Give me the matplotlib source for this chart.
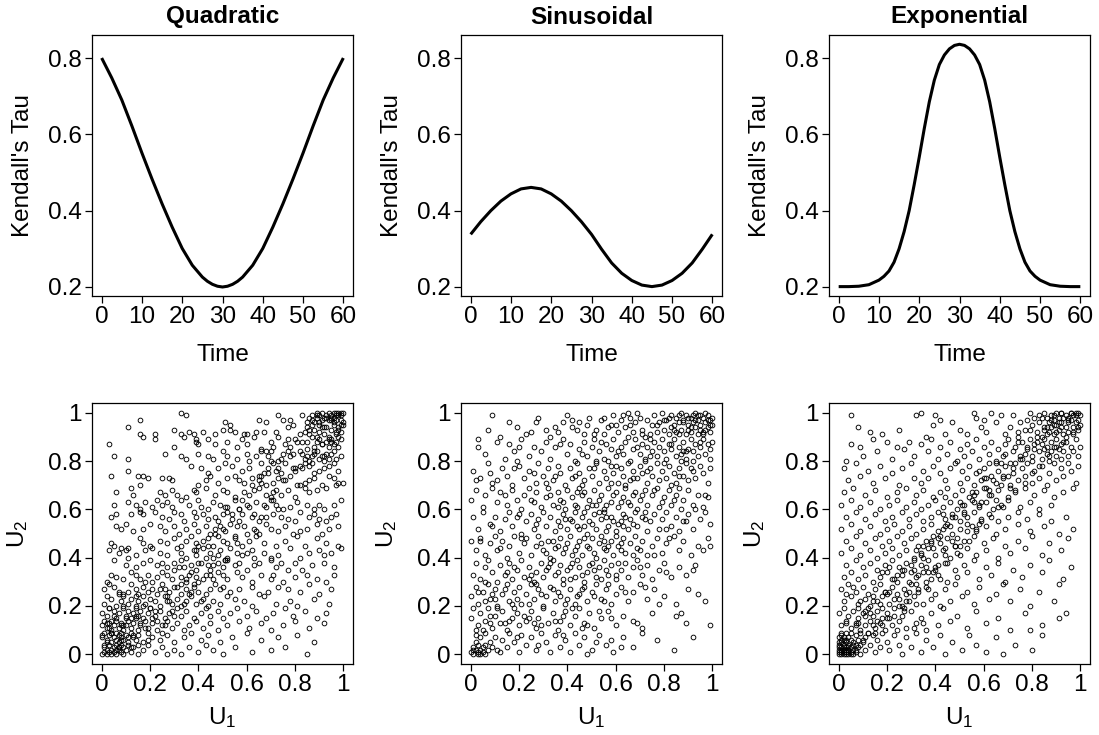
import matplotlib
matplotlib.use("Agg")
import matplotlib.pyplot as plt

plt.rcParams['font.family'] = ['Liberation Sans', 'DejaVu Sans']
plt.rcParams['mathtext.default'] = 'regular'

# ---------------- data: Kendall's tau curves ----------------
t_quad = [0, 2.5, 5, 7.5, 10, 12.5, 15, 17.5, 20, 22.5, 25, 26.25, 27.5, 28.75, 30,
          31.25, 32.5, 33.75, 35, 37.5, 40, 42.5, 45, 47.5, 50, 52.5, 55, 57.5, 60]
tau_quad = [0.800, 0.748, 0.690, 0.622, 0.551, 0.483, 0.418, 0.357, 0.301, 0.257, 0.226, 0.215, 0.207, 0.202, 0.200,
            0.202, 0.207, 0.215, 0.226, 0.257, 0.301, 0.357, 0.418, 0.483, 0.551, 0.622, 0.690, 0.748, 0.800]

t_sin = [0, 2.5, 5, 7.5, 10, 12.5, 15, 17.5, 20, 22.5, 25, 27.5, 30,
         32.5, 35, 37.5, 40, 42.5, 45, 47.5, 50, 52.5, 55, 57.5, 60]
tau_sin = [0.338, 0.371, 0.400, 0.425, 0.444, 0.457, 0.461, 0.457, 0.444, 0.425, 0.400, 0.371, 0.338,
           0.299, 0.263, 0.236, 0.217, 0.205, 0.201, 0.205, 0.217, 0.236, 0.263, 0.299, 0.338]

t_exp = [0, 2.5, 5, 7.5, 10, 11.25, 12.5, 13.75, 15, 16.25, 17.5, 18.75, 20, 21.25, 22.5, 23.75, 25, 26.25, 27.5,
         28.75, 30, 31.25, 32.5, 33.75, 35, 36.25, 37.5, 38.75, 40, 41.25, 42.5, 43.75, 45, 46.25, 47.5, 48.75,
         50, 52.5, 55, 57.5, 60]
tau_exp = [0.201, 0.201, 0.202, 0.206, 0.218, 0.228, 0.242, 0.265, 0.300, 0.345, 0.400, 0.468, 0.540, 0.615, 0.685,
           0.742, 0.783, 0.808, 0.824, 0.833, 0.836, 0.833, 0.824, 0.808, 0.783, 0.742, 0.685, 0.615, 0.540, 0.468,
           0.400, 0.345, 0.300, 0.265, 0.242, 0.228, 0.218, 0.206, 0.202, 0.201, 0.201]

titles = ["Quadratic", "Sinusoidal", "Exponential"]
time_ticks = [0, 10, 20, 30, 40, 50, 60]
tau_ticks = [0.2, 0.4, 0.6, 0.8]
tau_ticklabels = ["0.2", "0.4", "0.6", "0.8"]
u_ticks = [0, 0.2, 0.4, 0.6, 0.8, 1]
u_ticklabels = ["0", "0.2", "0.4", "0.6", "0.8", "1"]

# ---------------- data: simulated copula points (percent units) ----------------
quad_pts = [
 (33,100),(35,99),(16,97),(65,97),(68,96),(51,96),(53,95),(73,99),(75,97),(78,97),(83,99),(87,99),(89,100),(90,99),
 (91,100),(93,99),(94,100),(96,100),(97,100),(98,100),(99,99),(98,99),(96,98),(95,98),(94,97),(91,97),(89,98),(87,97),
 (99,97),(97,97),(100,96),(92,98),(95,99),(97,99),(99,100),(90,96),(86,98),(88,96),
 (11,94),(16,91),(17,90),(22,91),(30,93),(33,91),(34,90),(36,92),(38,91),(39,89),(42,92),(47,91),(50,93),(53,93),
 (55,92),(59,91),(60,91),(64,92),(67,92),(72,92),(73,90),(77,94),(79,95),(84,92),(86,91),(88,93),(90,92),(91,94),
 (93,94),(95,93),(96,95),(98,94),(99,92),(97,91),(94,90),(92,91),(89,90),(100,95),(87,95),(85,94),
 (3,87),(22,89),(39,88),(40,87),(44,89),(47,87),(52,88),(56,86),(58,89),(60,87),(63,90),(66,85),(70,88),(71,86),
 (76,87),(80,89),(81,88),(85,85),(88,86),(89,88),(90,89),(91,87),(93,88),(94,86),(95,89),(96,87),(97,88),(98,86),
 (99,89),(85,88),(26,83),(30,86),
 (5,82),(11,81),(35,81),(33,82),(40,83),(44,82),(46,81),(50,84),(52,82),(56,81),(60,83),(61,80),(64,82),(66,84),
 (68,84),(69,82),(70,80),(73,80),(75,83),(77,84),(78,82),(82,84),(83,83),(84,81),(86,80),(87,82),(88,83),(89,84),
 (90,81),(91,82),(92,80),(93,83),(94,81),(96,84),(97,81),(99,82),(95,83),(85,82),
 (11,76),(37,78),(41,77),(44,75),(48,77),(51,79),(54,78),(58,76),(61,77),(66,79),(67,75),(69,77),(71,79),(72,76),
 (74,75),(76,79),(79,77),(80,76),(82,78),(83,77),(86,78),(87,79),(88,75),(90,76),(92,77),(94,78),(96,79),(98,76),
 (4,74),(15,74),(17,74),(19,73),(25,73),(28,73),(29,72),(40,70),(43,72),(45,74),(48,71),(52,73),(55,74),(57,72),
 (59,71),(62,73),(65,72),(66,74),(68,70),(71,71),(73,73),(75,72),(78,74),(82,70),(84,71),(86,72),(88,73),(91,70),
 (94,74),(96,73),(98,71),(100,71),
 (6,67),(12,69),(13,66),(16,70),(24,67),(26,66),(29,68),(31,66),(35,65),(38,68),(39,67),(43,69),(47,66),(50,68),
 (52,67),(55,65),(59,67),(63,68),(65,69),(68,66),(70,65),(71,67),(74,66),(77,68),(80,65),(84,69),(86,67),(89,68),
 (93,69),(97,70),
 (5,62),(11,63),(14,62),(16,60),(18,63),(21,61),(23,64),(25,62),(27,63),(29,61),(33,64),(36,62),(40,64),(41,61),
 (44,60),(46,63),(49,62),(52,61),(55,64),(57,60),(60,62),(61,61),(64,63),(68,61),(70,64),(72,62),(73,60),(78,61),
 (81,63),(85,62),(88,60),(90,62),(92,60),(96,62),(99,64),
 (4,57),(6,58),(12,58),(16,59),(17,58),(22,59),(25,57),(28,56),(30,59),(33,58),(34,55),(38,59),(39,57),(42,58),
 (44,56),(47,57),(48,55),(50,58),(52,59),(54,56),(57,55),(58,58),(62,57),(65,55),(66,57),(71,58),(74,57),(77,56),
 (80,55),(82,59),(86,57),(88,58),(90,56),(93,55),(95,57),(97,58),
 (6,53),(8,52),(10,54),(13,51),(17,52),(20,54),(24,53),(26,51),(30,53),(32,50),(35,52),(38,54),(40,51),(43,53),
 (45,50),(47,52),(49,53),(51,51),(53,54),(56,53),(60,50),(63,52),(65,50),(68,54),(70,52),(73,51),(76,53),(79,50),
 (82,51),(85,52),(89,54),(91,50),(94,52),(98,53),
 (4,46),(5,45),(8,44),(10,43),(11,44),(16,48),(17,46),(20,45),(24,47),(27,46),(30,48),(33,45),(35,47),(37,49),
 (39,46),(40,45),(42,47),(44,48),(46,45),(48,49),(50,47),(52,46),(55,48),(58,45),(61,47),(64,49),(67,46),(72,45),
 (76,47),(81,49),(84,45),(89,48),(93,46),(98,45),
 (3,43),(7,42),(11,40),(14,41),(18,43),(21,44),(24,42),(27,41),(31,44),(33,42),(35,40),(38,43),(39,41),(42,44),
 (45,42),(46,40),(49,43),(51,39),(52,40),(56,42),(58,41),(62,43),(63,40),(67,42),(70,40),(73,41),(78,44),(82,40),
 (86,42),(90,43),(92,41),(95,42),(99,44),
 (5,39),(10,37),(14,36),(17,38),(20,39),(23,37),(25,38),(27,36),(30,38),(33,39),(34,36),(37,37),(39,35),(41,38),
 (44,37),(45,35),(48,38),(50,36),(51,39),(55,37),(57,38),(60,35),(63,37),(65,38),(70,39),(72,36),(74,38),(77,35),
 (80,38),(83,35),(87,37),(92,38),(96,36),
 (2,30),(4,33),(6,32),(9,31),(12,34),(14,33),(16,31),(19,33),(21,30),(23,32),(25,34),(27,33),(29,31),(30,35),
 (33,32),(35,30),(37,34),(39,32),(40,30),(43,33),(46,31),(48,34),(50,33),(52,31),(56,34),(58,32),(62,30),(66,33),
 (70,31),(71,33),(75,30),(80,32),(85,33),(89,31),(93,30),(96,33),
 (1,27),(3,29),(5,28),(7,26),(9,25),(11,26),(12,29),(14,27),(15,25),(17,28),(18,30),(19,26),(21,27),(23,25),
 (25,29),(26,27),(28,26),(30,28),(33,29),(35,27),(36,25),(38,28),(40,26),(43,25),(45,27),(47,29),(50,28),(53,26),
 (57,27),(62,28),(65,25),(69,26),(73,28),(77,27),(82,26),(86,29),(90,25),(95,27),
 (1,21),(2,24),(4,23),(6,20),(8,22),(9,24),(11,21),(12,23),(14,20),(15,22),(17,24),(18,21),(20,23),(22,22),
 (24,20),(26,24),(27,22),(29,21),(31,23),(33,20),(35,22),(37,24),(39,21),(42,23),(44,20),(46,22),(49,21),(52,24),
 (55,23),(59,22),(62,20),(67,24),(72,21),(78,22),(81,20),(88,23),(94,21),
 (0,17),(2,16),(3,19),(5,18),(6,15),(7,17),(9,19),(10,16),(11,18),(12,15),(13,17),(14,19),(15,16),(16,18),
 (17,15),(19,17),(20,19),(22,16),(24,18),(26,15),(28,17),(31,19),(33,16),(35,18),(38,15),(41,17),(43,19),(45,16),
 (48,18),(50,15),(53,17),(56,19),(60,16),(64,18),(68,15),(71,17),(76,19),(79,16),(84,18),(89,15),(93,17),
 (0,12),(1,14),(2,11),(3,13),(4,10),(5,12),(6,14),(7,11),(8,13),(9,10),(10,12),(11,14),(12,11),(13,13),(14,15),
 (15,10),(16,12),(18,14),(19,11),(21,13),(23,10),(25,12),(27,14),(29,11),(31,13),(34,10),(36,12),(39,14),(42,11),
 (45,13),(48,10),(52,12),(57,14),(61,11),(66,13),(70,10),(75,12),(80,14),(86,11),(92,13),(2,13),(4,14),(8,12),
 (0,7),(1,9),(2,6),(3,8),(4,5),(4,9),(5,7),(6,6),(6,9),(7,8),(7,5),(8,7),(8,9),(9,6),(10,8),(11,5),(12,9),(13,7),
 (14,6),(15,8),(17,5),(19,9),(21,7),(24,6),(27,8),(30,5),(34,7),(37,9),(41,6),(44,8),(49,5),(54,7),(60,9),(66,6),
 (73,7),(81,8),(88,5),
 (0,0),(1,1),(1,3),(2,0),(2,2),(3,4),(3,1),(4,2),(4,0),(5,3),(5,1),(6,4),(6,0),(7,2),(7,3),(8,1),(8,4),(9,0),(9,3),
 (10,2),(11,4),(12,1),(13,3),(15,0),(17,2),(19,4),(22,1),(25,3),(27,0),(30,2),(33,0),(36,3),(40,1),(43,4),(46,2),
 (50,0),(55,3),(62,1),(70,2),(76,3),(85,0),
]
quad_pts_b = [
 (2,5),(4,9),(7,3),(9,12),(11,7),(14,16),(15,4),(18,11),(20,19),(23,14),(25,9),(27,24),(29,18),(31,28),(34,21),
 (36,33),(37,26),(40,38),(42,31),(44,45),(46,37),(48,41),(50,52),(53,44),(55,49),(57,60),(59,53),(61,66),(63,58),
 (66,71),(67,62),(69,75),(72,68),(74,81),(76,72),(78,86),(80,77),(83,88),(84,79),(86,93),(88,84),(90,95),(91,87),
 (93,98),(94,89),(96,96),(97,92),(99,95),(100,100),(98,93),(95,97),(92,94),(89,99),(87,90),(85,96),(82,91),(79,83),
 (77,89),(73,77),(70,84),(65,74),(62,70),(58,64),(54,58),(51,61),(47,50),(43,40),(39,43),(35,31),(32,36),(28,22),
 (24,27),(21,15),(17,20),(13,8),(10,15),(6,2),(3,11),(1,4),(0,8),(8,6),(12,3),(16,13),(19,6),(22,18),(26,12),
 (30,16),(33,25),(38,29),(41,22),(45,33),(49,27),(52,39),(56,46),(60,42),(64,51),(68,57),(71,64),(75,60),(81,70),
 (92,82),(95,88),(98,90),(5,16),(9,20),(14,24),(3,19),(7,25),
]

sin_pts = [
 (9,99),(19,94),(23,91),(27,96),(31,93),(36,92),(40,99),(42,94),(45,96),(47,91),(49,98),(52,93),(54,97),(55,91),
 (58,95),(59,99),(61,92),(62,97),(64,94),(65,100),(67,92),(68,96),(70,98),(71,93),(72,90),(73,97),(75,95),(76,99),
 (77,92),(78,96),(79,100),(80,93),(81,97),(82,91),(83,99),(84,95),(85,92),(85,98),(86,96),(87,100),(87,93),(88,97),
 (89,91),(89,99),(90,95),(91,98),(91,92),(92,96),(93,100),(93,94),(94,97),(94,91),(95,99),(95,95),(96,98),(96,92),
 (97,100),(97,96),(98,94),(98,99),(99,97),(99,92),(100,98),(100,95),(92,99),(90,93),(86,91),(83,94),(74,91),
 (69,100),(63,99),(57,94),(51,91),(44,93),(38,96),(33,90),(25,92),(66,95),(82,98),(95,93),
 (3,86),(6,83),(11,88),(14,81),(16,87),(18,84),(21,89),(24,82),(26,86),(29,84),(31,88),(33,81),(35,86),(38,89),
 (40,83),(41,87),(43,80),(45,85),(47,88),(48,82),(50,86),(51,89),(53,84),(55,81),(56,87),(58,85),(59,89),(60,82),
 (62,86),(63,83),(64,88),(66,80),(67,85),(68,89),(70,83),(71,87),(72,81),(73,86),(75,84),(76,88),(77,82),(78,86),
 (79,89),(80,84),(81,81),(82,87),(83,85),(84,89),(85,82),(86,86),(87,83),(88,88),(89,81),(90,85),(91,89),(92,84),
 (93,87),(94,82),(95,86),(96,89),(97,83),(98,87),(99,85),(100,88),(52,80),(65,90),(74,89),(88,84),(92,80),(19,80),
 (1,76),(4,73),(7,79),(9,71),(13,77),(15,74),(17,70),(20,78),(22,73),(24,76),(27,71),(28,79),(30,74),(32,77),
 (34,72),(36,78),(37,75),(39,70),(41,77),(42,73),(44,79),(45,75),(47,72),(49,77),(50,74),(52,79),(53,71),(55,76),
 (56,73),(58,78),(59,75),(61,71),(62,77),(63,74),(65,79),(66,72),(67,76),(69,73),(70,78),(71,75),(73,71),(74,77),
 (75,74),(77,79),(78,72),(79,76),(81,73),(82,78),(84,75),(85,71),(86,77),(88,74),(89,79),(90,72),(92,76),(93,73),
 (95,78),(96,75),(98,71),(99,77),(46,70),(57,80),(64,70),(72,80),(83,70),(11,72),(26,75),(87,80),(60,78),(35,74),
 (0,64),(2,68),(5,61),(6,66),(9,69),(11,63),(12,67),(15,62),(17,68),(19,64),(21,60),(22,66),(24,69),(26,63),
 (27,67),(29,61),(31,65),(32,69),(34,62),(36,67),(37,64),(39,60),(40,68),(42,65),(43,62),(45,69),(46,66),(48,61),
 (49,64),(51,68),(52,62),(54,66),(55,60),(57,69),(58,63),(60,67),(61,61),(63,65),(64,69),(66,62),(67,66),(69,60),
 (70,64),(72,68),(73,62),(75,66),(77,69),(78,61),(80,65),(82,68),(83,62),(85,66),(87,60),(88,64),(90,68),(92,62),
 (94,66),(96,61),(98,65),(53,64),(47,67),(38,63),(62,63),(71,66),(56,62),(44,61),(33,66),(68,67),(79,63),(86,69),
 (1,57),(3,52),(5,59),(8,54),(10,57),(12,51),(14,56),(16,59),(17,53),(19,57),(21,50),(23,55),(25,58),(26,52),
 (28,56),(30,59),(31,53),(33,57),(35,51),(36,55),(38,58),(40,52),(41,56),(43,59),(44,53),(46,57),(48,50),(49,55),
 (51,58),(52,52),(54,56),(55,59),(57,53),(58,57),(60,51),(62,55),(63,58),(65,52),(66,56),(68,59),(69,53),(71,57),
 (73,51),(74,55),(76,58),(78,52),(79,56),(81,59),(83,53),(85,57),(86,51),(88,55),(90,58),(92,52),(95,56),(97,59),
 (99,54),(45,52),(50,54),(56,51),(61,54),(64,57),(37,53),(42,55),(53,59),(59,55),(67,54),(72,59),(47,59),
 (0,47),(2,43),(4,48),(6,41),(8,46),(10,49),(11,43),(13,47),(15,40),(16,45),(18,49),(20,42),(22,46),(23,48),
 (25,41),(27,45),(28,49),(30,43),(32,47),(33,40),(35,44),(37,48),(38,42),(40,46),(41,49),(43,43),(45,47),(46,41),
 (48,45),(50,48),(51,42),(53,46),(54,49),(56,43),(58,47),(59,41),(61,45),(63,48),(64,42),(66,46),(68,49),(70,43),
 (71,47),(73,41),(75,45),(77,48),(79,42),(81,46),(84,49),(86,43),(88,47),(91,41),(94,45),(98,48),(99,45),(39,44),
 (44,45),(49,44),(52,40),(57,45),(60,49),(34,47),(29,46),(47,48),(55,44),(62,43),(67,41),
 (1,33),(2,38),(4,31),(6,36),(7,39),(9,34),(11,30),(12,37),(14,33),(16,38),(17,31),(19,35),(21,39),(22,32),
 (24,36),(26,30),(27,34),(29,38),(30,32),(32,36),(34,39),(35,33),(37,37),(38,31),(40,35),(42,38),(43,32),(45,36),
 (47,30),(48,34),(50,38),(52,32),(53,36),(55,39),(57,33),(58,37),(60,31),(62,35),(64,38),(65,32),(67,36),(69,39),
 (71,33),(73,37),(75,31),(78,35),(80,38),(83,32),(86,36),(89,33),(93,37),(36,34),(41,31),(44,39),(49,37),(54,31),
 (31,35),(25,33),(18,36),(61,38),(46,33),(56,35),
 (0,24),(2,28),(3,21),(5,26),(7,29),(8,23),(10,27),(11,20),(13,25),(15,29),(16,22),(18,26),(20,28),(21,21),
 (23,25),(25,29),(26,23),(28,27),(30,20),(31,24),(33,28),(35,22),(36,26),(38,29),(40,23),(41,27),(43,21),(45,25),
 (47,28),(48,22),(50,26),(52,29),(54,23),(56,27),(58,21),(60,25),(62,28),(65,22),(67,26),(70,29),(73,23),(76,27),
 (80,24),(85,21),(90,27),(97,22),(14,27),(19,23),(24,21),(29,25),(34,27),(39,21),(44,24),(6,22),(9,25),(51,24),
 (57,29),
 (0,15),(1,19),(3,12),(4,17),(6,14),(7,19),(9,11),(10,16),(12,13),(13,18),(15,10),(17,15),(18,19),(20,12),
 (22,16),(23,14),(25,18),(27,11),(28,15),(30,19),(32,13),(34,17),(36,10),(37,14),(39,18),(41,12),(43,16),(45,19),
 (47,13),(49,17),(51,11),(54,15),(57,18),(60,12),(63,16),(67,14),(71,11),(75,17),(85,16),(89,13),(99,12),(5,10),
 (8,16),(11,19),(14,13),(19,17),(24,15),(29,12),(35,14),(42,19),(46,11),(53,18),
 (0,1),(1,3),(1,0),(2,2),(2,5),(3,1),(3,4),(4,0),(4,2),(5,3),(5,1),(6,0),(7,2),(8,5),(2,8),(4,7),(6,9),(9,3),
 (10,7),(12,1),(13,6),(15,3),(16,9),(18,5),(20,1),(21,8),(23,4),(25,7),(27,2),(29,9),(31,5),(33,1),(35,8),(37,3),
 (39,6),(41,1),(43,9),(45,4),(47,7),(50,2),(53,8),(56,4),(59,1),(63,7),(67,3),(71,9),(84,2),(92,7),(48,0),(58,6),
]
sin_pts_b = [
 (88,96),(91,94),(94,99),(97,93),(99,95),(86,99),(93,97),(96,91),(90,98),(98,97),(84,93),(80,97),(77,95),(71,91),
 (66,98),(60,95),(55,98),(48,95),(42,97),(35,94),(28,98),(16,96),(12,90),(7,93),(3,89),(20,86),(37,87),(46,83),
 (54,88),(61,84),(69,86),(74,82),(83,87),(89,84),(95,88),(99,81),(91,77),(86,74),(80,79),(73,76),(67,73),(58,71),
 (51,77),(43,74),(31,71),(18,77),(8,75),(2,72),(14,66),(25,64),(36,61),(44,67),(50,62),(59,66),(65,63),(76,68),
 (84,64),(93,60),(97,66),(89,55),(81,52),(72,56),(63,53),(56,57),(47,53),(39,56),(27,54),(20,58),(9,53),(4,47),
 (12,44),(21,48),(31,42),(36,45),(42,41),(55,47),(62,46),(69,44),(76,41),(82,48),(96,43),(92,35),(81,34),(70,36),
 (60,33),(51,35),(41,36),(33,38),(24,31),(15,34),(6,30),(3,26),(10,23),(17,21),(27,29),(37,24),(46,27),(55,22),
 (64,26),(72,28),(78,21),(94,25),(87,17),(69,13),(58,15),(48,12),(38,16),(26,13),(16,14),(8,13),(2,10),(6,4),
 (11,2),(19,7),(28,4),(38,8),(52,5),(62,3),(77,6),(3,0),(1,2),
]

exp_pts = [
 (5,99),(8,94),(13,92),(18,91),(25,93),(32,99),(34,100),(36,90),(39,95),(40,99),(42,97),(44,91),(47,96),(50,93),
 (53,91),(56,100),(57,98),(59,94),(61,92),(63,100),(65,96),(67,99),(69,91),(71,94),(72,99),(74,92),(75,96),(77,93),
 (79,100),(80,95),(81,98),(82,92),(83,96),(84,90),(85,100),(85,94),(86,98),(87,92),(87,96),(88,99),(88,94),(89,97),
 (89,91),(90,100),(90,95),(91,98),(91,93),(92,96),(92,100),(93,91),(93,98),(94,94),(94,99),(95,96),(95,92),(96,100),
 (96,97),(97,94),(97,99),(98,96),(98,100),(99,97),(99,93),(100,99),(100,95),(86,91),(90,92),(94,90),(97,91),
 (99,100),(95,98),(92,94),(89,95),(83,99),(78,97),(60,97),
 (3,80),(5,87),(9,86),(10,82),(14,89),(16,84),(20,88),(22,81),(24,86),(27,85),(29,88),(31,82),(34,87),(37,84),
 (38,89),(41,81),(42,86),(45,83),(46,88),(49,80),(50,85),(52,82),(53,87),(55,84),(57,89),(58,81),(60,86),(62,83),
 (63,88),(65,80),(66,85),(68,82),(69,87),(70,89),(72,84),(73,86),(75,81),(76,88),(77,83),(78,86),(79,89),(80,82),
 (81,85),(82,88),(83,84),(84,81),(84,87),(85,89),(86,83),(86,86),(87,80),(88,88),(88,84),(89,86),(90,82),(90,89),
 (91,85),(92,87),(92,81),(93,84),(94,88),(95,82),(96,86),(97,84),(98,89),(99,82),(100,86),(74,90),(85,85),(80,80),
 (2,77),(4,72),(7,79),(9,74),(12,76),(14,71),(17,78),(19,73),(22,75),(25,70),(26,77),(30,79),(31,73),(34,71),
 (35,76),(37,73),(39,78),(42,75),(44,72),(46,77),(48,79),(50,71),(51,76),(53,73),(54,78),(56,70),(57,75),(59,72),
 (60,77),(62,79),(63,74),(65,71),(66,76),(68,73),(69,78),(71,70),(72,75),(73,79),(74,72),(76,77),(77,74),(78,79),
 (80,71),(81,76),(83,73),(84,78),(86,70),(87,75),(89,79),(90,72),(92,77),(93,74),(95,79),(96,76),(98,71),(99,78),
 (61,73),(67,79),(58,76),(70,74),
 (1,62),(2,67),(5,64),(6,69),(9,61),(11,66),(13,63),(15,68),(17,60),(20,65),(21,62),(24,67),(24,64),(28,69),
 (28,61),(31,63),(32,66),(34,60),(35,68),(37,62),(39,65),(40,64),(42,67),(43,61),(45,69),(46,63),(48,66),(49,60),
 (51,68),(52,62),(54,65),(55,64),(57,67),(58,61),(60,69),(61,63),(63,66),(64,60),(66,68),(67,62),(70,65),(71,69),
 (73,67),(75,61),(77,69),(79,63),(81,66),(83,60),(85,68),(88,62),(89,65),(93,67),(97,69),(56,66),(59,63),(62,68),
 (65,64),(68,61),(44,65),(50,63),
 (1,52),(3,57),(5,54),(7,59),(9,51),(11,56),(13,53),(15,58),(17,50),(19,55),(20,52),(22,57),(23,54),(26,59),
 (26,51),(29,53),(29,56),(32,58),(32,50),(35,55),(35,52),(38,57),(38,54),(41,59),(41,51),(44,56),(44,53),(47,58),
 (47,50),(50,55),(50,52),(53,57),(53,54),(56,59),(57,51),(59,56),(61,53),(62,58),(65,50),(66,55),(69,52),(70,57),
 (74,59),(74,54),(78,56),(79,51),(83,58),(85,53),(88,55),(91,50),(94,57),(97,52),(45,54),(48,57),(52,59),(55,53),
 (58,54),(43,58),
 (1,42),(3,47),(5,44),(7,49),(9,41),(11,46),(13,43),(15,48),(16,40),(18,45),(19,42),(21,47),(22,44),(24,49),
 (25,41),(27,46),(28,43),(30,48),(31,40),(33,45),(34,42),(36,47),(37,44),(39,49),(40,41),(42,46),(43,43),(45,48),
 (46,40),(48,45),(49,42),(52,47),(53,44),(56,49),(57,41),(60,46),(61,43),(64,48),(66,40),(69,45),(71,42),(74,47),
 (77,44),(80,49),(84,41),(87,46),(92,43),(95,48),(38,46),(41,48),(44,44),(47,47),(35,40),(50,45),(32,43),
 (2,32),(3,37),(5,34),(7,39),(8,31),(10,36),(11,33),(13,38),(14,30),(16,35),(17,32),(19,37),(20,34),(22,39),
 (23,31),(25,36),(26,33),(28,38),(29,30),(31,35),(32,32),(34,37),(35,34),(37,39),(38,31),(40,36),(41,33),(44,38),
 (45,30),(48,35),(49,32),(52,37),(53,34),(56,39),(58,31),(61,36),(63,33),(66,38),(69,30),(72,35),(76,32),(79,37),
 (84,34),(87,39),(93,31),(96,36),(27,35),(30,37),(33,33),(36,36),(39,34),(42,31),(24,33),(21,36),(18,34),
 (1,27),(2,22),(4,29),(5,24),(7,26),(8,21),(10,28),(11,23),(12,25),(13,20),(15,27),(16,22),(17,29),(18,24),
 (19,26),(21,21),(22,28),(23,23),(24,25),(26,20),(27,27),(28,22),(30,29),(31,24),(33,26),(35,21),(36,28),(38,23),
 (40,25),(42,20),(44,27),(46,22),(48,29),(51,24),(53,26),(56,21),(58,28),(62,23),(65,25),(68,29),(71,22),(75,27),
 (79,20),(83,26),(89,22),(91,29),(14,24),(20,25),(25,23),(29,26),(9,22),(6,28),(32,21),(37,27),(3,25),
 (0,17),(1,12),(2,19),(3,14),(4,16),(5,11),(6,18),(7,13),(8,15),(9,10),(10,17),(11,12),(12,19),(13,14),(14,16),
 (15,11),(16,18),(17,13),(18,15),(19,10),(20,17),(22,12),(23,19),(25,14),(26,16),(28,11),(30,18),(32,13),(34,15),
 (36,10),(38,17),(41,12),(43,19),(46,14),(49,16),(53,11),(57,18),(61,13),(66,15),(71,10),(77,17),(84,12),(91,15),
 (94,17),(79,10),(8,19),(14,12),(21,15),(27,18),(31,11),(18,19),(11,16),(24,10),(35,13),
 (0,0),(0,2),(0,4),(1,1),(1,3),(1,0),(1,5),(2,2),(2,4),(2,1),(2,6),(3,0),(3,3),(3,1),(3,5),(4,2),(4,4),(4,0),
 (4,7),(5,1),(5,3),(5,6),(6,2),(6,0),(6,4),(7,4),(7,1),(7,8),(8,3),(8,6),(9,0),(9,9),(10,5),(11,2),(11,7),(12,9),
 (13,4),(14,8),(15,1),(16,6),(17,3),(18,9),(20,5),(21,2),(23,8),(25,4),(26,0),(28,7),(30,3),(32,9),(34,1),(36,6),
 (39,3),(42,8),(44,0),(47,5),(51,2),(54,8),(57,4),(61,1),(65,7),(68,0),(73,4),(80,2),(84,8),(0,7),(1,8),(3,9),
 (2,0),(0,1),(1,2),(3,2),(4,1),
]
exp_pts_b = [
 (0,3),(1,6),(2,3),(3,6),(4,3),(5,0),(6,5),(7,2),(2,7),(0,5),
 (8,13),(10,6),(13,17),(15,9),(17,21),(18,12),(21,26),(23,16),(24,30),(27,19),(29,22),(30,34),(33,27),(34,41),
 (36,30),(39,44),(40,35),(42,49),(45,38),(46,53),(48,45),(50,41),(52,58),(54,47),(56,63),(57,52),(59,55),(61,69),
 (63,57),(64,72),(66,61),(68,74),(70,64),(71,79),(73,68),(75,82),(77,71),(78,85),(80,75),(82,90),(83,78),(85,93),
 (87,82),(88,97),(90,86),(92,100),(93,88),(95,97),(97,92),(98,99),(99,94),(96,100),(91,96),(89,99),(86,94),(84,98),
 (81,87),(79,93),(76,81),(74,88),(72,77),(69,83),(67,70),(65,79),(62,66),(60,73),(58,62),(55,67),(53,51),(51,62),
 (49,48),(47,57),(44,41),(43,52),(41,37),(38,47),(37,34),(35,45),(32,29),(31,39),(28,25),(26,35),(25,20),(22,31),
 (20,15),(19,26),(16,14),(14,22),(12,9),(11,18),(9,4),(7,12),(5,9),(3,13),(1,9),
]

curves = [(t_quad, tau_quad), (t_sin, tau_sin), (t_exp, tau_exp)]
scatters = [quad_pts + quad_pts_b, sin_pts + sin_pts_b, exp_pts + exp_pts_b]

# ---------------- figure ----------------
W, H = 1099, 735
fig = plt.figure(figsize=(W / 100, H / 100), dpi=100)

col_left = [92, 461, 829]
box_w = 261
row_top = [35, 403]
box_h = 261
FS = 17.5


def add_axes(left_px, top_px):
    return fig.add_axes([left_px / W, 1 - (top_px + box_h) / H, box_w / W, box_h / H])


def style(ax):
    for s in ax.spines.values():
        s.set_linewidth(0.9)
    ax.tick_params(direction='out', length=5, width=0.9, labelsize=FS, pad=2.5)


for i in range(3):
    cx = col_left[i] + box_w / 2
    # top row: tau curve
    ax = add_axes(col_left[i], row_top[0])
    t, tau = curves[i]
    ax.plot(t, tau, color='black', lw=2.2, solid_capstyle='butt', solid_joinstyle='round')
    ax.set_xlim(-2.4, 62.4)
    ax.set_ylim(0.1764, 0.8603)
    ax.set_xticks(time_ticks)
    ax.set_xticklabels([str(v) for v in time_ticks])
    ax.set_yticks(tau_ticks)
    ax.set_yticklabels(tau_ticklabels)
    style(ax)
    fig.text(cx / W, 1 - 17 / H, titles[i], ha='center', va='center', fontsize=FS, fontweight='bold')
    fig.text(cx / W, 1 - 355 / H, "Time", ha='center', va='center', fontsize=FS)
    fig.text((col_left[i] - 69) / W, 1 - (row_top[0] + box_h / 2) / H, "Kendall's Tau",
             ha='center', va='center', rotation=90, fontsize=FS)

    # bottom row: scatter
    ax2 = add_axes(col_left[i], row_top[1])
    pts = scatters[i]
    u1 = [p[0] / 100 for p in pts]
    u2 = [p[1] / 100 for p in pts]
    ax2.plot(u1, u2, linestyle='none', marker='o', ms=3.4, mfc='none', mec='black', mew=0.65)
    ax2.set_xlim(-0.04, 1.04)
    ax2.set_ylim(-0.04, 1.04)
    ax2.set_xticks(u_ticks)
    ax2.set_xticklabels(u_ticklabels)
    ax2.set_yticks(u_ticks)
    ax2.set_yticklabels(u_ticklabels)
    style(ax2)
    fig.text(cx / W, 1 - 718 / H, r"U$_1$", ha='center', va='center', fontsize=FS)
    fig.text((col_left[i] - 74) / W, 1 - (row_top[1] + box_h / 2) / H, r"U$_2$",
             ha='center', va='center', rotation=90, fontsize=FS)

fig.savefig("out.png", dpi=100)
